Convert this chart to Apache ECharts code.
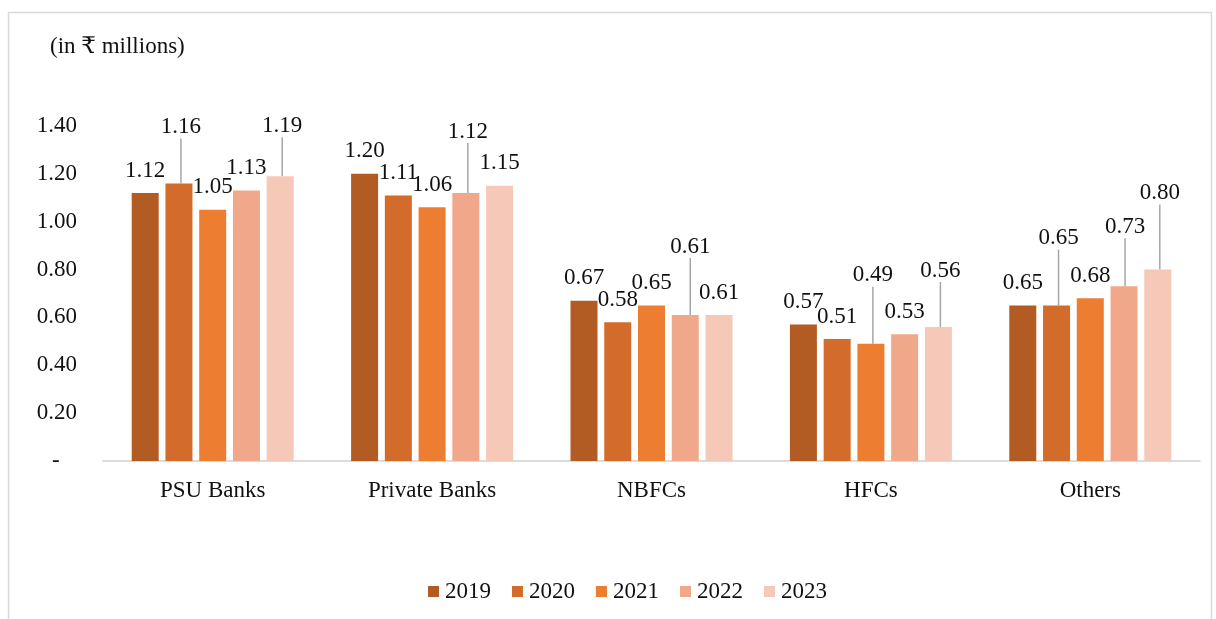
<!DOCTYPE html>
<html>
<head>
<meta charset="utf-8">
<script src="https://cdn.jsdelivr.net/npm/echarts@6/dist/echarts.min.js"></script>
<style>
html,body{margin:0;padding:0;background:#fff;}
#c{width:1216px;height:619px;}
</style>
</head>
<body>
<div id="c"></div>
<script>
var categories = ['PSU Banks', 'Private Banks', 'NBFCs', 'HFCs', 'Others'];
var years = ['2019', '2020', '2021', '2022', '2023'];
var v2019 = [1.12, 1.20, 0.67, 0.57, 0.65];
var v2020 = [1.16, 1.11, 0.58, 0.51, 0.65];
var v2021 = [1.05, 1.06, 0.65, 0.49, 0.68];
var v2022 = [1.13, 1.12, 0.61, 0.53, 0.73];
var v2023 = [1.19, 1.15, 0.61, 0.56, 0.80];
var yTicks = [0, 0.2, 0.4, 0.6, 0.8, 1.0, 1.2, 1.4];

var seriesValues = [v2019, v2020, v2021, v2022, v2023];
var colors = ['#B25B22', '#D36C2B', '#ED7D31', '#F1A88A', '#F5C8B8'];

// label offsets (moved labels, as in the reference) keyed "series-dataIndex"
var labelMoves = {
  '1-0': [2, -34], '4-0': [2, -28],
  '3-1': [2, -39],
  '3-2': [5, -46],
  '2-3': [2, -46], '4-3': [2, -34],
  '1-4': [2, -45], '3-4': [1, -37], '4-4': [2, -54]
};

var font = '"Liberation Serif", "Times New Roman", "DejaVu Serif", serif';
var FS = 23;
var chart = echarts.init(document.getElementById('c'), null, {renderer: 'canvas'});

var series = seriesValues.map(function (vals, si) {
  return {
    name: years[si],
    type: 'bar',
    data: vals.map(function (v, di) {
      if (labelMoves[si + '-' + di]) {
        return {value: v, labelLine: {show: true}};
      }
      return {value: v, labelLine: {show: false}};
    }),
    barWidth: 27,
    barGap: '25%',
    itemStyle: {color: colors[si]},
    label: {
      show: true,
      position: 'top',
      distance: 11,
      fontFamily: font,
      fontSize: FS,
      color: '#111',
      formatter: function (p) { return p.value.toFixed(2); }
    },
    labelLine: {show: false, lineStyle: {color: '#a6a6a6', width: 1.5}},
    labelLayout: function (p) {
      var m = labelMoves[p.seriesIndex + '-' + p.dataIndex];
      if (m) return {dx: m[0], dy: m[1]};
      return {};
    }
  };
});

chart.setOption({
  animation: false,
  backgroundColor: '#fff',
  graphic: [
    {type: 'rect', shape: {x: 8.5, y: 12.5, width: 1203, height: 640},
     style: {fill: 'none', stroke: '#d9d9d9', lineWidth: 1.5}, silent: true},
    {type: 'text', left: 50, top: 35,
     style: {text: '(in ₹ millions)', font: FS + 'px ' + font, fill: '#111'}}
  ],
  grid: {left: 103, right: 16, top: 126, bottom: 158, containLabel: false},
  legend: {
    data: years,
    bottom: 11,
    left: 423,
    itemWidth: 11,
    itemHeight: 11,
    itemGap: 21,
    icon: 'rect',
    textStyle: {fontFamily: font, fontSize: FS, color: '#111', padding: [0, 0, 0, 1]}
  },
  xAxis: {
    type: 'category',
    data: categories,
    axisLine: {lineStyle: {color: '#d0d0d0', width: 1.5}},
    axisTick: {show: false},
    axisLabel: {fontFamily: font, fontSize: FS, color: '#111', margin: 18}
  },
  yAxis: {
    type: 'value',
    min: yTicks[0],
    max: yTicks[yTicks.length - 1],
    interval: 0.2,
    splitLine: {show: false},
    axisLine: {show: false},
    axisTick: {show: false},
    axisLabel: {
      fontFamily: font, fontSize: FS, color: '#111', margin: 26,
      formatter: function (v) { return v === 0 ? '-   ' : v.toFixed(2); }
    }
  },
  series: series
});
</script>
</body>
</html>
